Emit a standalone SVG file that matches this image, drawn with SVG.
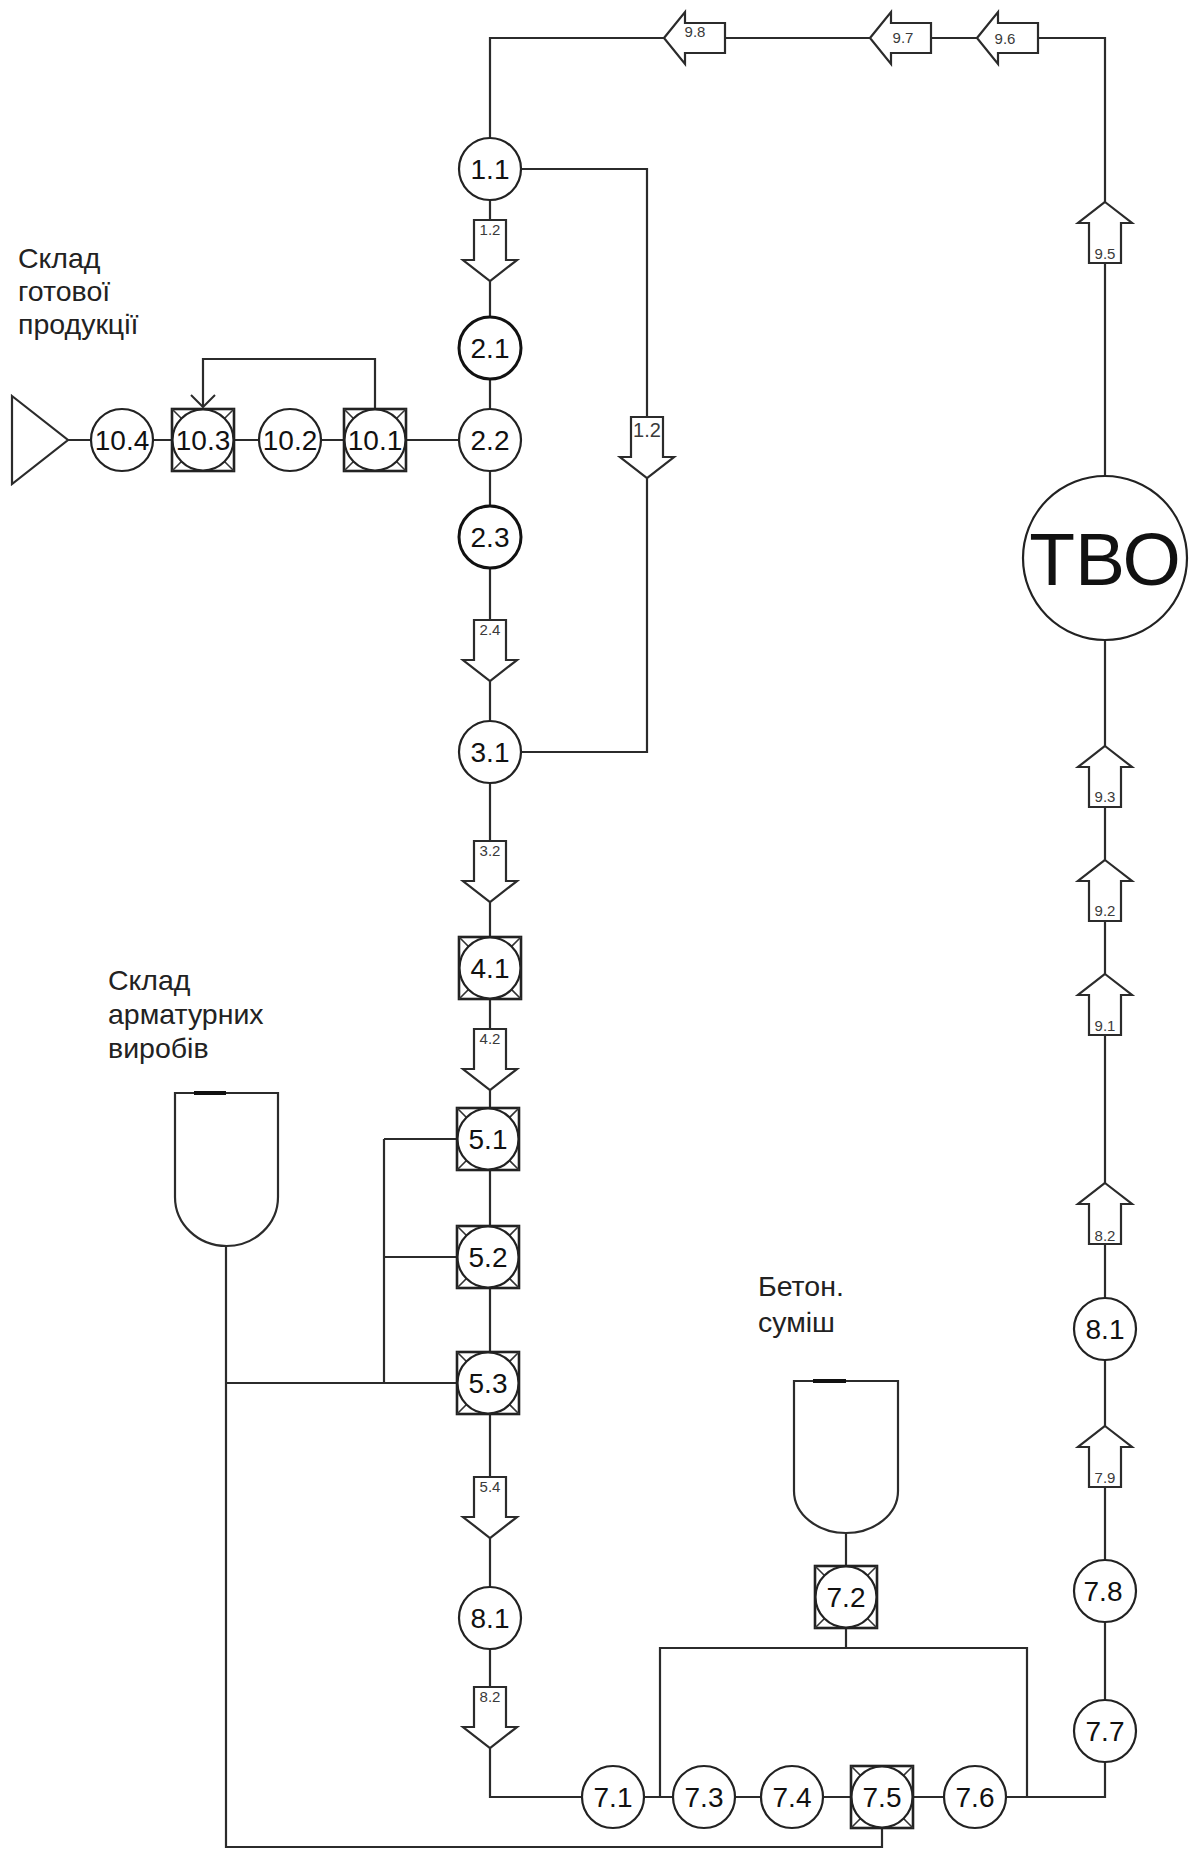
<svg xmlns="http://www.w3.org/2000/svg" xmlns:xlink="http://www.w3.org/1999/xlink" width="1197" height="1850" viewBox="0 0 1197 1850">
<style>
.ln{fill:none;stroke:#2b2b2b;stroke-width:2.2}
.nd{fill:#fff;stroke:#222;stroke-width:2.2}
.nd3{fill:#fff;stroke:#111;stroke-width:3}
.sq{fill:#fff;stroke:#222;stroke-width:2.6}
.dg{stroke:#333;stroke-width:1.6}
.ar{fill:#fff;stroke:#2b2b2b;stroke-width:2.2}
.lb{font-family:"Liberation Sans",Arial,sans-serif;font-size:28px;fill:#111;text-anchor:middle}
.al{font-family:"Liberation Sans",Arial,sans-serif;font-size:15px;fill:#3a3a3a;text-anchor:middle}
.tx{font-family:"Liberation Sans",Arial,sans-serif;font-size:28.5px;fill:#222}
.hp{fill:#fff;stroke:#2b2b2b;stroke-width:2.2}
</style>
<defs>
<path id="aDown" d="M-16,0 H16 V40 H27 L0,61 L-27,40 H-16 Z"/>
<path id="aUp" d="M0,0 L27,21 H16 V61 H-16 V21 H-27 Z"/>
<path id="aLeft" d="M0,0 L21,-26 V-15 H61 V15 H21 V26 Z"/>
<marker id="vee" markerUnits="userSpaceOnUse" markerWidth="30" markerHeight="30" refX="14" refY="14" orient="auto" viewBox="0 0 30 30">
<path d="M2,2 L14,14 L2,26" fill="none" stroke="#2b2b2b" stroke-width="2"/>
</marker>
</defs>

<g id="connectors">
<path class="ln" d="M490,138 V38 H1105 V476"/>
<path class="ln" d="M521,169 H647 V752 H521"/>
<path class="ln" d="M490,169 V1797 H1105 V641"/>
<path class="ln" d="M459,440 H68"/>
<path class="ln" d="M375,409 V359 H203 V407" marker-end="url(#vee)"/>
<path class="ln" d="M226,1246 V1847 H882 V1828"/>
<path class="ln" d="M226,1383 H457"/>
<path class="ln" d="M384,1139 V1383"/>
<path class="ln" d="M384,1139 H457 M384,1257 H457"/>
<path class="ln" d="M846,1533 V1566"/>
<path class="ln" d="M846,1628 V1648"/>
<path class="ln" d="M660,1797 V1648 H1027 V1797"/>
</g>

<g id="flow-arrows">
<g id="arrow-1-2a"><use href="#aDown" class="ar" x="490" y="220"/><text class="al" x="490" y="235">1.2</text></g>
<g id="arrow-1-2b"><use href="#aDown" class="ar" x="647" y="417"/><text class="al" x="647" y="437" style="font-size:20px">1.2</text></g>
<g id="arrow-2-4"><use href="#aDown" class="ar" x="490" y="620"/><text class="al" x="490" y="635">2.4</text></g>
<g id="arrow-3-2"><use href="#aDown" class="ar" x="490" y="841"/><text class="al" x="490" y="856">3.2</text></g>
<g id="arrow-4-2"><use href="#aDown" class="ar" x="490" y="1029"/><text class="al" x="490" y="1044">4.2</text></g>
<g id="arrow-5-4"><use href="#aDown" class="ar" x="490" y="1477"/><text class="al" x="490" y="1492">5.4</text></g>
<g id="arrow-8-2a"><use href="#aDown" class="ar" x="490" y="1687"/><text class="al" x="490" y="1702">8.2</text></g>
<g id="arrow-9-5"><use href="#aUp" class="ar" x="1105" y="202"/><text class="al" x="1105" y="259">9.5</text></g>
<g id="arrow-9-3"><use href="#aUp" class="ar" x="1105" y="746"/><text class="al" x="1105" y="802">9.3</text></g>
<g id="arrow-9-2"><use href="#aUp" class="ar" x="1105" y="860"/><text class="al" x="1105" y="916">9.2</text></g>
<g id="arrow-9-1"><use href="#aUp" class="ar" x="1105" y="974"/><text class="al" x="1105" y="1031">9.1</text></g>
<g id="arrow-8-2b"><use href="#aUp" class="ar" x="1105" y="1183"/><text class="al" x="1105" y="1241">8.2</text></g>
<g id="arrow-7-9"><use href="#aUp" class="ar" x="1105" y="1426"/><text class="al" x="1105" y="1483">7.9</text></g>
<g id="arrow-9-8"><use href="#aLeft" class="ar" x="664" y="38"/><text class="al" x="695" y="37">9.8</text></g>
<g id="arrow-9-7"><use href="#aLeft" class="ar" x="870" y="38"/><text class="al" x="903" y="43">9.7</text></g>
<g id="arrow-9-6"><use href="#aLeft" class="ar" x="977" y="38"/><text class="al" x="1005" y="44">9.6</text></g>
</g>

<g id="node-1-1"><circle class="nd" cx="490" cy="169" r="31"/><text class="lb" x="490" y="179">1.1</text></g>
<g id="node-2-1"><circle class="nd3" cx="490" cy="348" r="31"/><text class="lb" x="490" y="358">2.1</text></g>
<g id="node-2-2"><circle class="nd" cx="490" cy="440" r="31"/><text class="lb" x="490" y="450">2.2</text></g>
<g id="node-2-3"><circle class="nd3" cx="490" cy="537" r="31"/><text class="lb" x="490" y="547">2.3</text></g>
<g id="node-3-1"><circle class="nd" cx="490" cy="752" r="31"/><text class="lb" x="490" y="762">3.1</text></g>
<g id="node-4-1"><rect class="sq" x="459" y="937" width="62" height="62"/><path class="dg" d="M459,937 L521,999 M521,937 L459,999"/><circle class="nd" cx="490" cy="968" r="30.5"/><text class="lb" x="490" y="978">4.1</text></g>
<g id="node-5-1"><rect class="sq" x="457" y="1108" width="62" height="62"/><path class="dg" d="M457,1108 L519,1170 M519,1108 L457,1170"/><circle class="nd" cx="488" cy="1139" r="30.5"/><text class="lb" x="488" y="1149">5.1</text></g>
<g id="node-5-2"><rect class="sq" x="457" y="1226" width="62" height="62"/><path class="dg" d="M457,1226 L519,1288 M519,1226 L457,1288"/><circle class="nd" cx="488" cy="1257" r="30.5"/><text class="lb" x="488" y="1267">5.2</text></g>
<g id="node-5-3"><rect class="sq" x="457" y="1352" width="62" height="62"/><path class="dg" d="M457,1352 L519,1414 M519,1352 L457,1414"/><circle class="nd" cx="488" cy="1383" r="30.5"/><text class="lb" x="488" y="1393">5.3</text></g>
<g id="node-8-1a"><circle class="nd" cx="490" cy="1618" r="31"/><text class="lb" x="490" y="1628">8.1</text></g>

<g id="node-7-1"><circle class="nd" cx="613" cy="1797" r="31"/><text class="lb" x="613" y="1807">7.1</text></g>
<g id="node-7-3"><circle class="nd" cx="704" cy="1797" r="31"/><text class="lb" x="704" y="1807">7.3</text></g>
<g id="node-7-4"><circle class="nd" cx="792" cy="1797" r="31"/><text class="lb" x="792" y="1807">7.4</text></g>
<g id="node-7-5"><rect class="sq" x="851" y="1766" width="62" height="62"/><path class="dg" d="M851,1766 L913,1828 M913,1766 L851,1828"/><circle class="nd" cx="882" cy="1797" r="30.5"/><text class="lb" x="882" y="1807">7.5</text></g>
<g id="node-7-6"><circle class="nd" cx="975" cy="1797" r="31"/><text class="lb" x="975" y="1807">7.6</text></g>
<g id="node-7-2"><rect class="sq" x="815" y="1566" width="62" height="62"/><path class="dg" d="M815,1566 L877,1628 M877,1566 L815,1628"/><circle class="nd" cx="846" cy="1597" r="30.5"/><text class="lb" x="846" y="1607">7.2</text></g>
<g id="node-7-7"><circle class="nd" cx="1105" cy="1731" r="31"/><text class="lb" x="1105" y="1741">7.7</text></g>
<g id="node-7-8"><circle class="nd" cx="1105" cy="1591" r="31"/><text class="lb" x="1103" y="1601">7.8</text></g>
<g id="node-8-1b"><circle class="nd" cx="1105" cy="1329" r="31"/><text class="lb" x="1105" y="1339">8.1</text></g>
<g id="node-tvo"><circle class="nd" cx="1105" cy="558" r="82"/><text class="lb" x="1105" y="585" style="font-size:75px">ТВО</text></g>

<g id="node-10-1"><rect class="sq" x="344" y="409" width="62" height="62"/><path class="dg" d="M344,409 L406,471 M406,409 L344,471"/><circle class="nd" cx="375" cy="440" r="30.5"/><text class="lb" x="375" y="450">10.1</text></g>
<g id="node-10-2"><circle class="nd" cx="290" cy="440" r="31"/><text class="lb" x="290" y="450">10.2</text></g>
<g id="node-10-3"><rect class="sq" x="172" y="409" width="62" height="62"/><path class="dg" d="M172,409 L234,471 M234,409 L172,471"/><circle class="nd" cx="203" cy="440" r="30.5"/><text class="lb" x="203" y="450">10.3</text></g>
<g id="node-10-4"><circle class="nd" cx="122" cy="440" r="31"/><text class="lb" x="122" y="450">10.4</text></g>
<g id="node-warehouse-out"><path class="hp" d="M12,396 L68,440 L12,484 Z"/></g>

<g id="node-hopper-rebar"><path class="hp" d="M175,1093 H278 V1197 A51.5,49 0 0 1 175,1197 Z"/><path d="M194,1093 H226" stroke="#111" stroke-width="4"/></g>
<g id="node-hopper-concrete"><path class="hp" d="M794,1381 H898 V1491 A52,42 0 0 1 794,1491 Z"/><path d="M813,1381 H846" stroke="#111" stroke-width="4"/></g>

<g id="labels">
<text class="tx" x="18" y="268">Склад</text>
<text class="tx" x="18" y="301">готової</text>
<text class="tx" x="18" y="334">продукції</text>
<text class="tx" x="108" y="990">Склад</text>
<text class="tx" x="108" y="1024">арматурних</text>
<text class="tx" x="108" y="1058">виробів</text>
<text class="tx" x="758" y="1296">Бетон.</text>
<text class="tx" x="758" y="1332">суміш</text>
</g>
</svg>
